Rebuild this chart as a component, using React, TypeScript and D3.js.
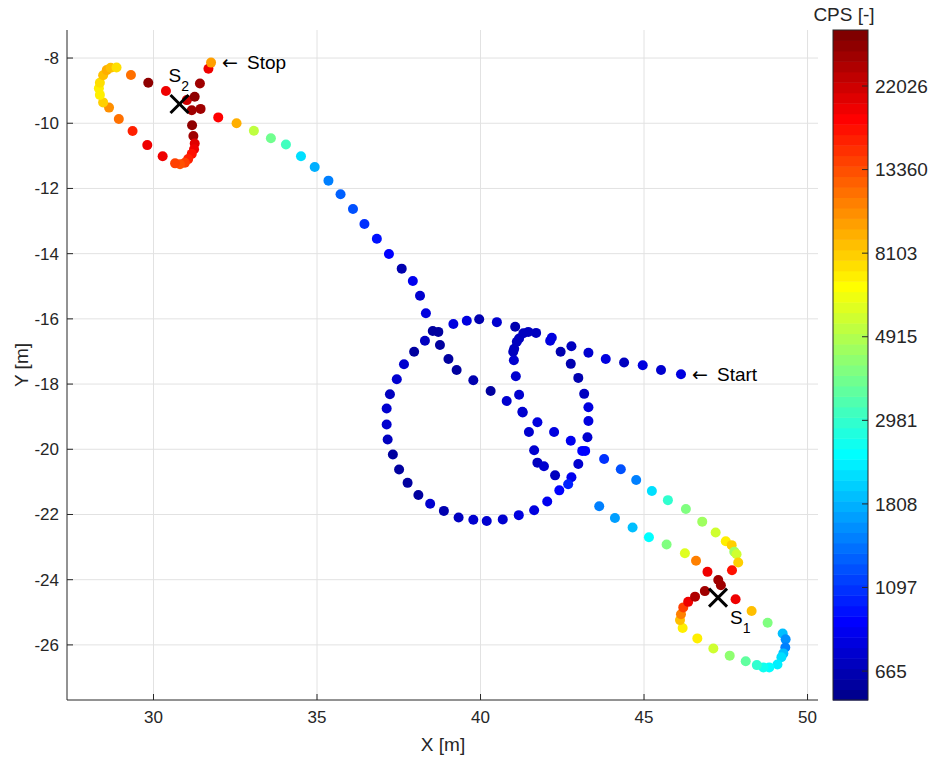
import React from "react";
import * as d3 from "d3";

// Survey track: [x (m), y (m), count rate CPS]
const startArm: [number, number, number][] = [
  [46.13, -17.7, 780], [45.52, -17.57, 760], [44.96, -17.42, 780], [44.39, -17.34, 700],
  [43.83, -17.23, 790], [43.3, -17.04, 750], [42.78, -16.84, 700],
];

const eastLoop: [number, number, number][] = [
  [42.18, -16.58, 780], [42.13, -16.67, 780], [42.45, -17.01, 640], [42.76, -17.38, 660],
  [42.99, -17.81, 640], [43.17, -18.3, 690], [43.3, -18.71, 790], [43.3, -19.13, 790],
  [43.27, -19.63, 760], [43.11, -20.05, 900], [42.99, -20.45, 730], [42.78, -20.86, 830],
  [42.68, -21.07, 1000], [42.41, -21.26, 880], [42.04, -21.6, 830], [41.64, -21.87, 790],
  [41.17, -22.02, 790], [40.68, -22.15, 760], [40.19, -22.2, 760], [39.78, -22.16, 730],
  [39.33, -22.09, 700], [38.88, -21.89, 640], [38.46, -21.67, 730], [38.1, -21.4, 630],
  [37.77, -21.03, 630], [37.51, -20.62, 630], [37.32, -20.16, 630], [37.16, -19.7, 690],
  [37.13, -19.24, 730], [37.13, -18.75, 760], [37.23, -18.31, 690], [37.44, -17.85, 760],
  [37.66, -17.39, 760], [37.97, -17.01, 630], [39.17, -16.16, 780], [39.58, -16.06, 780],
  [39.96, -16.01, 640], [40.5, -16.1, 760], [41.06, -16.24, 640],
];

const innerHook: [number, number, number][] = [
  [41.31, -16.44, 700], [41.46, -16.4, 700], [41.7, -16.43, 700], [41.18, -16.6, 700],
  [41.11, -16.7, 700], [41.03, -16.92, 700], [41.0, -17.01, 700], [41.02, -17.27, 720],
  [41.08, -17.76, 730], [41.18, -18.33, 730], [41.28, -18.85, 720], [41.48, -19.47, 730],
  [41.64, -20.03, 730], [41.74, -20.41, 700], [41.94, -20.52, 730], [42.28, -20.8, 700],
];

const crossing: [number, number, number][] = [
  [38.33, -15.83, 780], [38.54, -16.37, 620], [38.71, -16.4, 620], [38.3, -16.67, 690],
  [38.76, -16.8, 620], [39.02, -17.23, 620], [39.27, -17.57, 630], [39.78, -17.88, 650],
  [40.31, -18.21, 620], [40.8, -18.52, 760], [41.29, -18.87, 730], [41.74, -19.17, 790],
  [42.25, -19.47, 790], [42.76, -19.74, 830], [43.2, -20.05, 920], [43.78, -20.3, 1100],
  [44.29, -20.61, 1250], [44.76, -20.94, 1500], [45.24, -21.28, 2100], [45.73, -21.56, 3000],
  [46.28, -21.83, 4000], [46.78, -22.22, 4500], [47.19, -22.55, 5500], [47.5, -22.82, 7200],
  [47.68, -22.94, 8000], [47.76, -23.14, 4700], [47.83, -23.22, 5500], [47.88, -23.47, 8000],
  [47.69, -23.71, 17000],
];

const sourceOneLoop: [number, number, number][] = [
  [47.8, -24.6, 19000], [48.29, -24.96, 8500], [48.78, -25.32, 4000], [49.24, -25.65, 1850],
  [49.33, -25.83, 1550], [49.32, -26.08, 1450], [49.26, -26.26, 1900], [49.2, -26.38, 2100],
  [49.08, -26.6, 2300], [48.83, -26.69, 2400], [48.65, -26.69, 2600], [48.45, -26.62, 3000],
  [48.11, -26.5, 3500], [47.62, -26.33, 4200], [47.12, -26.11, 5500], [46.63, -25.8, 7000],
  [46.18, -25.48, 7000], [46.1, -25.24, 8500], [46.13, -25.06, 11000], [46.2, -24.85, 14000],
  [46.35, -24.68, 19000], [46.56, -24.52, 25000], [46.86, -24.35, 27000], [47.35, -24.17, 27000],
  [47.27, -24.01, 27000], [46.94, -23.76, 18800], [46.59, -23.42, 10800], [46.25, -23.19, 6000],
  [45.69, -22.92, 3900], [45.15, -22.7, 2500], [44.65, -22.4, 1950], [44.11, -22.11, 1700],
  [43.63, -21.75, 1450],
];

const westDiagonal: [number, number, number][] = [
  [38.15, -15.29, 760], [37.93, -14.84, 830], [37.59, -14.46, 650], [37.2, -14.01, 880],
  [36.83, -13.54, 950], [36.45, -13.09, 1100], [36.1, -12.63, 1200], [35.72, -12.18, 1300],
  [35.35, -11.76, 1500], [34.93, -11.34, 1770], [34.51, -11.01, 2160], [34.05, -10.65, 3070],
  [33.59, -10.46, 3800], [33.07, -10.23, 5300], [32.54, -10.0, 9000], [31.98, -9.82, 18000],
];

const sourceTwoLoop: [number, number, number][] = [
  [31.44, -9.56, 27000], [31.17, -9.6, 26000], [31.18, -10.06, 28000], [31.22, -10.39, 27000],
  [31.26, -10.62, 21000], [31.24, -10.8, 19000], [31.17, -10.94, 17500], [31.06, -11.1, 16000],
  [30.96, -11.21, 14000], [30.81, -11.26, 13500], [30.66, -11.23, 14000], [30.28, -11.01, 18800],
  [29.81, -10.67, 18800], [29.36, -10.24, 16000], [28.94, -9.87, 12000], [28.64, -9.52, 10000],
  [28.46, -9.36, 8000], [28.36, -9.13, 7200], [28.33, -8.93, 6900], [28.36, -8.76, 7500],
  [28.46, -8.53, 8300], [28.57, -8.37, 9200], [28.69, -8.3, 8300], [28.87, -8.29, 7500],
  [29.31, -8.52, 12000], [29.84, -8.76, 28000], [30.38, -9.01, 19000], [31.02, -9.29, 22000],
  [31.26, -9.19, 28000], [31.42, -8.78, 27000], [31.68, -8.33, 19000], [31.76, -8.14, 9500],
];

const track = [
  ...startArm, ...eastLoop, ...innerHook, ...crossing,
  ...sourceOneLoop, ...westDiagonal, ...sourceTwoLoop,
];

// Source positions
const sources = [
  { name: "S", sub: "2", x: 30.795, y: -9.41, dx: -11, dy: -22 },
  { name: "S", sub: "1", x: 47.263, y: -24.55, dx: 12, dy: 26 },
];

const annotations = [
  { text: "Stop", x: 31.76, y: -8.14 },
  { text: "Start", x: 46.13, y: -17.7 },
];

const xTicks = [30, 35, 40, 45, 50];
const yTicks = [-8, -10, -12, -14, -16, -18, -20, -22, -24, -26];
const cbTicks = [665, 1097, 1808, 2981, 4915, 8103, 13360, 22026];

const X_DOMAIN: [number, number] = [27.355, 50.32];
const Y_DOMAIN: [number, number] = [-7.14, -27.69];
const LOG_DOMAIN: [number, number] = [6.327, 10.335];

// MATLAB-style jet(64)
function jet(n: number): string[] {
  const n4 = Math.ceil(n / 4);
  const u: number[] = [];
  for (let i = 1; i <= n4; i++) u.push(i / n4);
  for (let i = 0; i < n4 - 1; i++) u.push(1);
  for (let i = n4; i >= 1; i--) u.push(i / n4);
  const gStart = Math.ceil(n4 / 2) - (n % 4 === 1 ? 1 : 0);
  const J = Array.from({ length: n }, () => [0, 0, 0]);
  u.forEach((val, k) => {
    const g = gStart + k + 1;
    const r = g + n4;
    const b = g - n4;
    if (r >= 1 && r <= n) J[r - 1][0] = val;
    if (g >= 1 && g <= n) J[g - 1][1] = val;
    if (b >= 1 && b <= n) J[b - 1][2] = val;
  });
  return J.map(([r, g, b]) => d3.rgb(r * 255, g * 255, b * 255).formatHex());
}

const palette = jet(64);

function colorFor(cps: number): string {
  const t = (Math.log(cps) - LOG_DOMAIN[0]) / (LOG_DOMAIN[1] - LOG_DOMAIN[0]);
  const idx = Math.max(0, Math.min(63, Math.floor(t * 64)));
  return palette[idx];
}

const FONT = "'Liberation Sans', Arial, Helvetica, sans-serif";
const AXIS_COLOR = "#262626";

export default function App() {
  const W = 936;
  const H = 762;
  const left = 67, right = 818, top = 30, bottom = 700;
  const x = d3.scaleLinear().domain(X_DOMAIN).range([left, right]);
  const y = d3.scaleLinear().domain(Y_DOMAIN).range([top, bottom]);

  const cbLeft = 833, cbRight = 868;
  const c = d3.scaleLinear().domain(LOG_DOMAIN).range([bottom, top]);
  const bandH = (bottom - top) / 64;

  return (
    <svg width={W} height={H} style={{ position: "absolute", left: 0, top: 0, background: "#fff" }}
      fontFamily={FONT}>
      <rect x={0} y={0} width={W} height={H} fill="#fff" />
      {/* grid */}
      {xTicks.map((t) => (
        <line key={"gx" + t} x1={x(t)} x2={x(t)} y1={top} y2={bottom} stroke="#e2e2e2" strokeWidth={1} />
      ))}
      {yTicks.map((t) => (
        <line key={"gy" + t} x1={left} x2={right} y1={y(t)} y2={y(t)} stroke="#e2e2e2" strokeWidth={1} />
      ))}

      {/* axes */}
      <line x1={left} x2={right} y1={bottom} y2={bottom} stroke={AXIS_COLOR} strokeWidth={1} />
      <line x1={left} x2={left} y1={top} y2={bottom} stroke={AXIS_COLOR} strokeWidth={1} />
      {xTicks.map((t) => (
        <g key={"tx" + t}>
          <line x1={x(t)} x2={x(t)} y1={bottom} y2={bottom - 6} stroke={AXIS_COLOR} />
          <text x={x(t)} y={723} textAnchor="middle" fontSize={17} fill={AXIS_COLOR}>{t}</text>
        </g>
      ))}
      {yTicks.map((t) => (
        <g key={"ty" + t}>
          <line x1={left} x2={left + 6} y1={y(t)} y2={y(t)} stroke={AXIS_COLOR} />
          <text x={59} y={y(t)} dy="0.35em" textAnchor="end" fontSize={17} fill={AXIS_COLOR}>
            {t < 0 ? "-" + Math.abs(t) : t}
          </text>
        </g>
      ))}
      <text x={(left + right) / 2 + 0.5} y={751} textAnchor="middle" fontSize={19} fill={AXIS_COLOR}>X [m]</text>
      <text transform={`translate(28,${(top + bottom) / 2}) rotate(-90)`} textAnchor="middle" fontSize={19}
        fill={AXIS_COLOR}>Y [m]</text>

      {/* track points */}
      {track.map(([px, py, v], i) => (
        <circle key={i} cx={x(px)} cy={y(py)} r={5} fill={colorFor(v)} />
      ))}

      {/* source markers */}
      {sources.map((s) => {
        const cx = x(s.x), cy = y(s.y);
        return (
          <g key={s.sub}>
            <line x1={cx - 9} y1={cy - 9} x2={cx + 9} y2={cy + 9} stroke="#000" strokeWidth={3} />
            <line x1={cx - 9} y1={cy + 9} x2={cx + 9} y2={cy - 9} stroke="#000" strokeWidth={3} />
            <text x={cx + s.dx} y={cy + s.dy} fontSize={19} fill="#000">
              {s.name}
              <tspan fontSize={14} dy={9}>{s.sub}</tspan>
            </text>
          </g>
        );
      })}

      {/* start / stop labels */}
      {annotations.map((a) => {
        const ax = x(a.x), ay = y(a.y);
        return (
          <g key={a.text}>
            <text x={ax + 11} y={ay} dy="0.35em" fontSize={19} fill="#000"
              fontFamily="'DejaVu Sans', sans-serif">←</text>
            <text x={ax + 36} y={ay} dy="0.35em" fontSize={19} fill="#000">{a.text}</text>
          </g>
        );
      })}

      {/* colorbar */}
      {palette.map((col, i) => (
        <rect key={"cb" + i} x={cbLeft} width={cbRight - cbLeft} y={bottom - (i + 1) * bandH}
          height={bandH + 0.5} fill={col} />
      ))}
      <rect x={cbLeft} y={top} width={cbRight - cbLeft} height={bottom - top} fill="none"
        stroke={AXIS_COLOR} strokeWidth={1} />
      {cbTicks.map((t) => (
        <g key={"cbt" + t}>
          <line x1={cbRight - 6} x2={cbRight} y1={c(Math.log(t))} y2={c(Math.log(t))} stroke={AXIS_COLOR} />
          <text x={875} y={c(Math.log(t))} dy="0.35em" fontSize={19} fill={AXIS_COLOR}>{t}</text>
        </g>
      ))}
      <text x={844} y={21} textAnchor="middle" fontSize={19} fill={AXIS_COLOR}>CPS [-]</text>
    </svg>
  );
}
